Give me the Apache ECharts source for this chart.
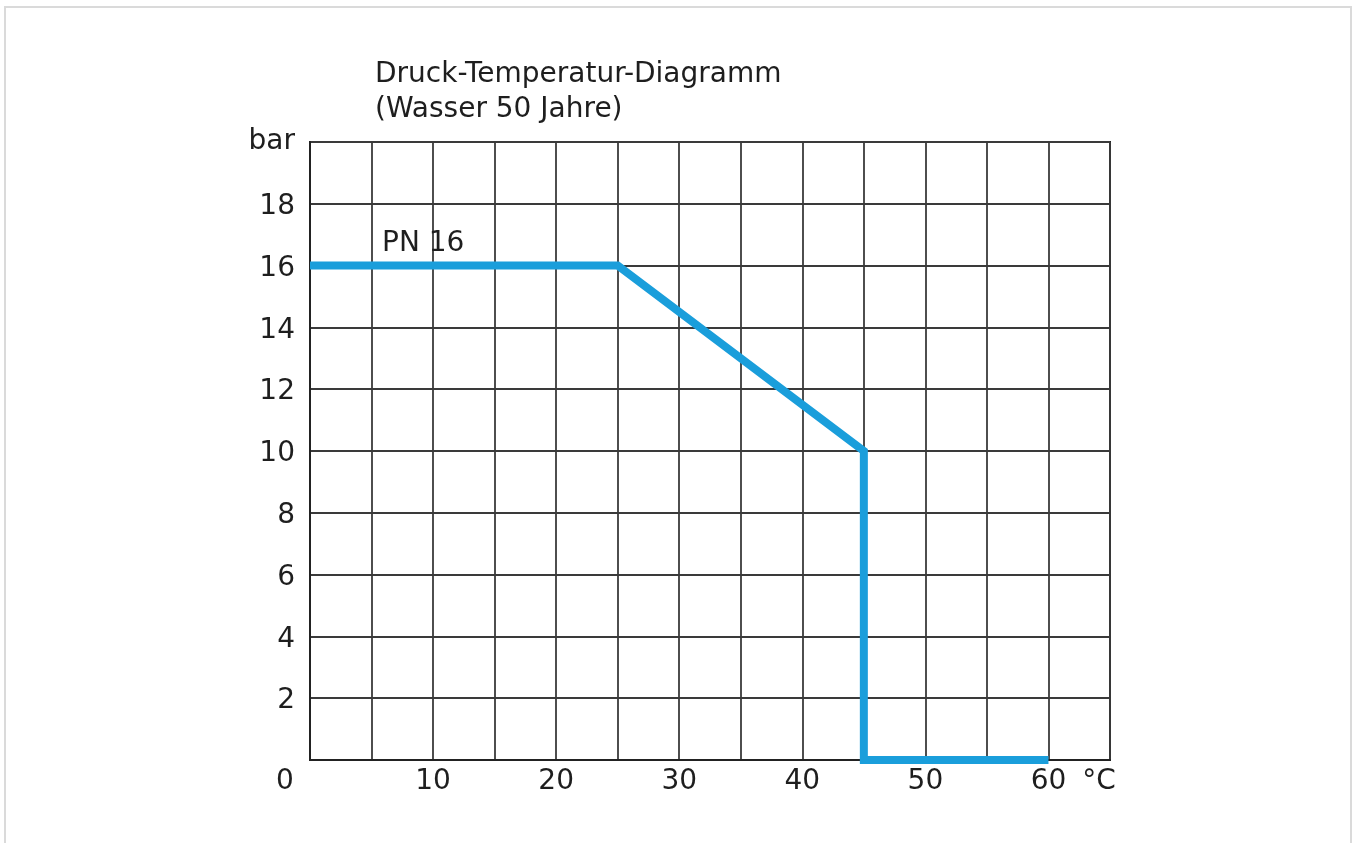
<!DOCTYPE html>
<html>
<head>
<meta charset="utf-8">
<script src="https://cdn.jsdelivr.net/npm/echarts@6/dist/echarts.min.js"></script>
<style>
html,body{margin:0;padding:0;background:#fff;}
#frame{position:absolute;left:4px;top:6px;width:1348px;height:850px;border:2px solid #dadada;box-sizing:border-box;}
#chart{position:absolute;left:0;top:0;width:1356px;height:843px;}
</style>
</head>
<body>
<div id="frame"></div>
<div id="chart"></div>
<script>
const titleLines = ['Druck-Temperatur-Diagramm', '(Wasser 50 Jahre)'];
const temperatures = [0, 25, 45, 45, 60];
const pressures = [16, 16, 10, 0, 0];
const seriesName = 'PN 16';
const xUnit = '°C';
const yUnit = 'bar';

const FONT = 'DejaVu Sans';
const chart = echarts.init(document.getElementById('chart'));
const points = temperatures.map((t, i) => [t, pressures[i]]);

chart.setOption({
  animation: false,
  title: {
    text: titleLines.join('\n'),
    left: 370, top: 52,
    textStyle: {fontFamily: FONT, fontSize: 28, fontWeight: 'normal', color: '#1e1e1e', lineHeight: 35}
  },
  grid: {left: 310, top: 142, width: 800, height: 618, containLabel: false,
         show: true, borderColor: '#222', borderWidth: 2},
  xAxis: {
    type: 'value', min: 0, max: 65, interval: 5,
    axisLine: {show: true, lineStyle: {color: '#222', width: 2}},
    axisTick: {show: false},
    splitLine: {show: true, lineStyle: {color: '#3a3a3a', width: 1.8}},
    axisLabel: {
      margin: 8, color: '#1e1e1e', fontFamily: FONT, fontSize: 28,
      showMinLabel: true, showMaxLabel: true,
      formatter: v => {
        if (v === 0) return '{z|0}';
        if (v === 65) return '{u|' + xUnit + '}';
        return v % 10 === 0 ? String(v) : '';
      },
      rich: {
        z: {fontFamily: FONT, fontSize: 28, color: '#1e1e1e', padding: [0, 50, 0, 0]},
        u: {fontFamily: FONT, fontSize: 28, color: '#1e1e1e', padding: [0, 22, 0, 0]}
      }
    }
  },
  yAxis: {
    type: 'value', min: 0, max: 20, interval: 2,
    axisLine: {show: true, lineStyle: {color: '#222', width: 2}},
    axisTick: {show: false},
    splitLine: {show: true, lineStyle: {color: '#3a3a3a', width: 1.8}},
    axisLabel: {
      margin: 15, color: '#1e1e1e', fontFamily: FONT, fontSize: 28,
      showMinLabel: true, showMaxLabel: true,
      formatter: v => v === 0 ? '' : (v === 20 ? '{b|' + yUnit + '}' : '{n|' + v + '}'),
      rich: {
        n: {fontFamily: FONT, fontSize: 28, color: '#1e1e1e', padding: [6, 0, 0, 0]},
        b: {fontFamily: FONT, fontSize: 28, color: '#1e1e1e', padding: [0, 0, 0, 0]}
      }
    }
  },
  series: [{
    name: seriesName,
    type: 'line',
    data: points,
    symbol: 'none',
    clip: false,
    z: 10,
    lineStyle: {color: '#1a9edb', width: 8, join: 'miter', cap: 'butt'}
  }],
  graphic: [{
    type: 'text', left: 382, top: 230, z: 20,
    style: {text: seriesName, fontFamily: FONT, fontSize: 28, fill: '#1e1e1e'}
  }]
});
</script>
</body>
</html>
